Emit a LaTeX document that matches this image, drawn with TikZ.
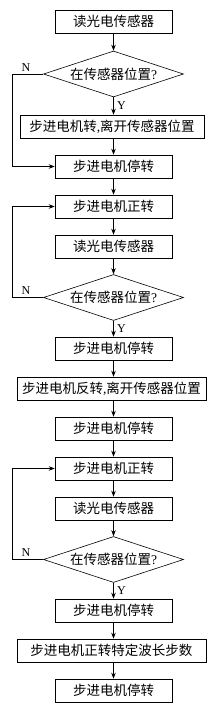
\documentclass[tikz,border=0pt]{standalone}
\usepackage{fontspec}
\setmainfont{Liberation Serif}
\newfontfamily\cjk{Noto Sans CJK SC}
\newfontfamily\lat{Liberation Serif}
\usetikzlibrary{shapes.geometric,arrows.meta}
\begin{document}
\begin{tikzpicture}[x=1pt,y=-1pt,
  line width=0.6pt,
  box/.style={draw, line width=0.6pt, minimum width=117pt, minimum height=23pt, inner sep=0pt,
    font=\fontsize{13.5}{15}\selectfont\cjk},
  widebox/.style={box, minimum width=#1},
  decision/.style={draw, line width=0.6pt, diamond, aspect=3.04, minimum width=140pt, minimum height=46pt, inner sep=0pt,
    font=\fontsize{13.5}{15}\selectfont\cjk},
  lbl/.style={inner sep=0pt, font=\fontsize{12}{14}\selectfont\lat},
  arr/.style={-{Stealth[length=6pt,width=4.5pt]}, line width=0.6pt}
]
\useasboundingbox (0,0) rectangle (211,710);
\fill[white] (0,0) rectangle (211,710);

\node[box] (b1) at (113.5,21.5) {读光电传感器};
\node[decision] (d1) at (113.5,74) {在传感器位置{\lat ?}};
\node[widebox=184pt] (b2) at (112,126.5) {步进电机转{\lat ,}离开传感器位置};
\node[box] (b3) at (113.5,166.5) {步进电机停转};
\node[box] (b4) at (113.5,206.5) {步进电机正转};
\node[box] (b5) at (113.5,246.5) {读光电传感器};
\node[decision] (d2) at (113.5,297.5) {在传感器位置{\lat ?}};
\node[box] (b6) at (113.5,348.5) {步进电机停转};
\node[widebox=189pt] (b7) at (111.5,388.5) {步进电机反转{\lat ,}离开传感器位置};
\node[box] (b8) at (113.5,428.5) {步进电机停转};
\node[box] (b9) at (113.5,468.5) {步进电机正转};
\node[box] (b10) at (113.5,508.5) {读光电传感器};
\node[decision] (d3) at (113.5,559.5) {在传感器位置{\lat ?}};
\node[box] (b11) at (113.5,610.5) {步进电机停转};
\node[widebox=189pt] (b12) at (111.5,650.5) {步进电机正转特定波长步数};
\node[box] (b13) at (113.5,690.5) {步进电机停转};

\draw[arr] (b1) -- (d1);
\draw[arr] (d1) -- (d1.south |- b2.north);
\draw[arr] (b2.south -| b3.north) -- (b3);
\draw[arr] (b3) -- (b4);
\draw[arr] (b4) -- (b5);
\draw[arr] (b5) -- (d2);
\draw[arr] (d2) -- (b6);
\draw[arr] (b6.south) -- (b6.south |- b7.north);
\draw[arr] (b7.south -| b8.north) -- (b8);
\draw[arr] (b8) -- (b9);
\draw[arr] (b9) -- (b10);
\draw[arr] (b10) -- (d3);
\draw[arr] (d3) -- (b11);
\draw[arr] (b11.south) -- (b11.south |- b12.north);
\draw[arr] (b12.south -| b13.north) -- (b13);

\draw[arr] (d1.west) -- ++(-30.5,0) |- (b3.west);
\draw[arr] (d2.west) -- ++(-30.5,0) |- (b4.west);
\draw[arr] (d3.west) -- ++(-30.5,0) |- (b9.west);

\node[lbl] (n1) at (26,67.5) {N};
\node[lbl] (n2) at (26,290.5) {N};
\node[lbl] (n3) at (26,552.5) {N};
\node[lbl] (y1) at (121.5,105.5) {Y};
\node[lbl] (y2) at (121.5,329) {Y};
\node[lbl] (y3) at (121.5,591) {Y};
\end{tikzpicture}
\end{document}
